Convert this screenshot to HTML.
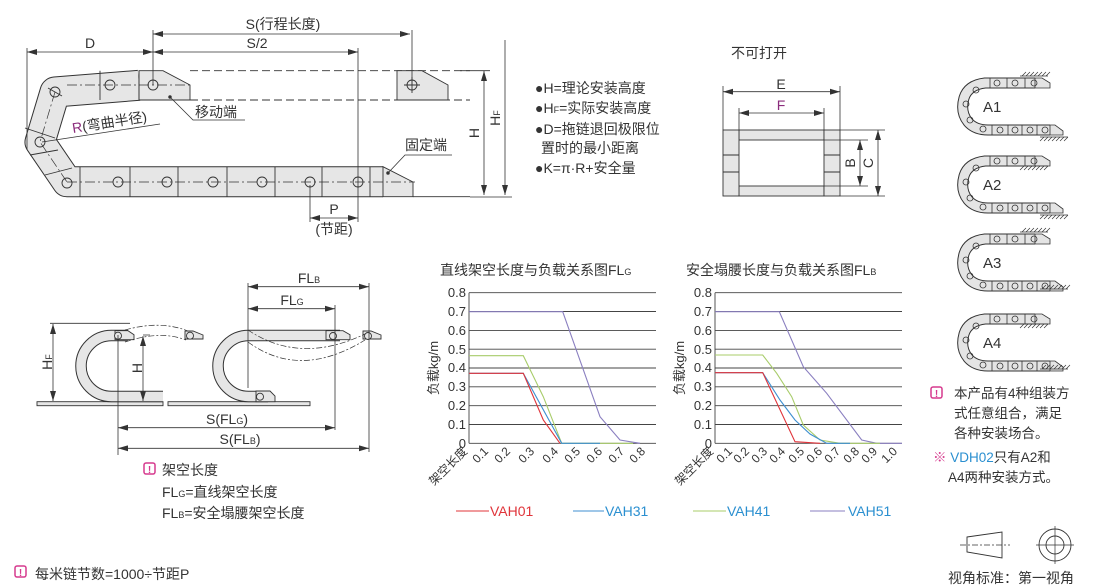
<!DOCTYPE html>
<html><head><meta charset="utf-8"><style>
html,body{margin:0;padding:0;background:#fff}
svg{display:block}
text{font-family:"Liberation Sans","Noto Sans CJK SC",sans-serif;fill:#333}
</style></head><body>
<svg width="1110" height="588" viewBox="0 0 1110 588" xmlns="http://www.w3.org/2000/svg">
<defs>
<marker id="a" viewBox="0 0 10 6" refX="10" refY="3" markerWidth="10" markerHeight="6" orient="auto-start-reverse" markerUnits="userSpaceOnUse"><path d="M0,0L10,3L0,6z" fill="#333"/></marker>
<g id="ach">
<path d="M1035,83 L985,83 Q968,85 964,98 Q960,112 968,122 Q975,130 988,130 L1050,130" fill="none" stroke="#333" stroke-width="11" stroke-linejoin="round"/>
<path d="M1035,83 L985,83 Q968,85 964,98 Q960,112 968,122 Q975,130 988,130 L1050,130" fill="none" stroke="#e4e4e4" stroke-width="9" stroke-linejoin="round"/>
<path d="M1035,78 L1042,78 L1050,83 L1050,88 L1035,88z M1050,125 L1055,125 L1063,131 L1063,135 L1050,135z" fill="#e4e4e4" stroke="#333" stroke-width="0.8"/>
<g fill="none" stroke="#333" stroke-width="0.8">
<circle cx="1034" cy="83" r="3"/><circle cx="1015" cy="83" r="3"/><circle cx="997" cy="83" r="3"/><circle cx="976" cy="90" r="3"/><circle cx="966" cy="104" r="3"/><circle cx="970" cy="120" r="3"/><circle cx="983" cy="129" r="3"/><circle cx="1000" cy="130" r="3"/><circle cx="1015" cy="130" r="3"/><circle cx="1030" cy="130" r="3"/><circle cx="1045" cy="130" r="3"/>
<path d="M1007,78V88 M1025,78V88 M990,78V88 M1008,125V135 M1022,125V135 M1037,125V135 M992,125V135"/>
</g>
</g>
<g id="hat" stroke="#333" stroke-width="0.7"><path d="M0,0H28 M2,0l4,-4 M6,0l4,-4 M10,0l4,-4 M14,0l4,-4 M18,0l4,-4 M22,0l4,-4 M26,0l4,-4"/></g>
<g id="hatd" stroke="#333" stroke-width="0.7"><path d="M0,0H28 M0,4l4,-4 M4,4l4,-4 M8,4l4,-4 M12,4l4,-4 M16,4l4,-4 M20,4l4,-4 M24,4l4,-4"/></g>
</defs>

<!-- ===== Top-left chain ===== -->
<g stroke="#333" stroke-width="0.9" fill="none">
<path d="M190,70.7H470 M190,100H470" stroke-dasharray="8,4"/>
<path d="M139,85.3 L55,92 L40,142 L67,181.7 L383,181.7" stroke-width="31" stroke-linejoin="round"/>
</g>
<path d="M139,85.3 L55,92 L40,142 L67,181.7 L383,181.7" fill="none" stroke="#e6e6e6" stroke-width="29" stroke-linejoin="round"/>
<g stroke="#333" stroke-width="0.9" fill="#e6e6e6">
<path d="M139,70.7H163L190,85V100H139z"/>
<path d="M383,166.7H383L413,182V196.7H383z"/>
<path d="M397,70.7H422L448,85V100H397z"/>
<path d="M413,196.7H470" fill="none"/>
<path d="M80,166.7V196.7 M130,166.7V196.7 M178,166.7V196.7 M227,166.7V196.7 M275,166.7V196.7 M322,166.7V196.7 M370,166.7V196.7 M100,70.7V100 M139,70.7V100 M48,88L62,96 M25,128L55,138 M30,155L58,150 M45,175L72,168" fill="none"/>
<path d="M67,85H190 M55,92L40,142L67,182 M67,182H415" fill="none" stroke-dasharray="10,3,2,3" stroke-width="0.7"/>
<g fill="none"><circle cx="110" cy="85" r="5"/><circle cx="153" cy="85" r="5"/><circle cx="55" cy="92" r="5"/><circle cx="40" cy="142" r="5"/><circle cx="67" cy="183" r="5"/><circle cx="118" cy="182" r="5"/><circle cx="167" cy="182" r="5"/><circle cx="213" cy="182" r="5"/><circle cx="262" cy="182" r="5"/><circle cx="310" cy="182" r="5"/><circle cx="358" cy="182" r="5"/><circle cx="412" cy="85" r="5"/><path d="M404,85H420M412,77V93"/></g>
<circle cx="170" cy="97" r="1.3" fill="#333"/><circle cx="388" cy="173" r="1.3" fill="#333"/>
</g>
<g stroke="#333" stroke-width="0.8" fill="none">
<path d="M153,30V85 M412,30V85 M358,48V200 M27,48V150 M310,185V222 M358,195V222"/>
<path d="M153,34H410" marker-start="url(#a)" marker-end="url(#a)"/>
<path d="M153,52H358" marker-start="url(#a)" marker-end="url(#a)"/>
<path d="M27,52H153" marker-start="url(#a)" marker-end="url(#a)"/>
<path d="M310,218H358" marker-start="url(#a)" marker-end="url(#a)"/>
<path d="M170,97L193,120H245 M42,142L160,124 M388,173L405,155H452"/>
<path d="M460,70.7H490 M470,197H512"/>
<path d="M484,71V195" marker-start="url(#a)" marker-end="url(#a)"/>
<path d="M505,40V195" marker-end="url(#a)"/>
</g>
<text x="283" y="29" font-size="14" text-anchor="middle">S(行程长度)</text>
<text x="257" y="48" font-size="14" text-anchor="middle">S/2</text>
<text x="90" y="48" font-size="14" text-anchor="middle">D</text>
<text x="195" y="117" font-size="14">移动端</text>
<text x="405" y="150" font-size="14">固定端</text>
<text x="334" y="214" font-size="14" text-anchor="middle">P</text>
<text x="334" y="234" font-size="14" text-anchor="middle">(节距)</text>
<text transform="translate(73,133) rotate(-9)" font-size="14"><tspan fill="#8b2c7c">R</tspan>(弯曲半径)</text>
<text transform="translate(479,133) rotate(-90)" font-size="14" text-anchor="middle">H</text>
<text transform="translate(500,118) rotate(-90)" font-size="14" text-anchor="middle">H<tspan font-size="9">F</tspan></text>

<!-- bullets -->
<g font-size="14">
<text x="535" y="93">●H=理论安装高度</text>
<text x="535" y="113">●H<tspan font-size="9">F</tspan>=实际安装高度</text>
<text x="535" y="134">●D=拖链退回极限位</text>
<text x="541" y="153">置时的最小距离</text>
<text x="535" y="173">●K=π·R+安全量</text>
</g>

<!-- cross section -->
<text x="731" y="58" font-size="14">不可打开</text>
<g stroke="#333" stroke-width="0.9" fill="#e6e6e6">
<rect x="739" y="130" width="85" height="10"/><rect x="739" y="186" width="85" height="10"/>
<rect x="723" y="130" width="16" height="66"/><rect x="824" y="130" width="16" height="66"/>
<path d="M723,155H739M723,172H739M824,155H840M824,172H840" fill="none"/>
</g>
<g stroke="#333" stroke-width="0.8" fill="none">
<path d="M723,86V130 M840,86V130 M739,108V130 M824,108V130 M840,130H885 M824,140H868 M824,186H868 M840,196H885"/>
<path d="M723,91.7H840" marker-start="url(#a)" marker-end="url(#a)"/>
<path d="M739,113H824" marker-start="url(#a)" marker-end="url(#a)"/>
<path d="M860,140V186" marker-start="url(#a)" marker-end="url(#a)"/>
<path d="M878,130V196" marker-start="url(#a)" marker-end="url(#a)"/>
</g>
<text x="781" y="89" font-size="14" text-anchor="middle">E</text>
<text x="781" y="110" font-size="14" text-anchor="middle" style="fill:#8b2c7c">F</text>
<text transform="translate(855,163) rotate(-90)" font-size="14" text-anchor="middle">B</text>
<text transform="translate(873,163) rotate(-90)" font-size="14" text-anchor="middle">C</text>

<!-- A1-A4 -->
<use href="#ach"/><use href="#hat" x="1020" y="76"/><use href="#hatd" x="1040" y="137"/>
<text x="983" y="112" font-size="15">A1</text>
<use href="#ach" y="78"/><use href="#hatd" x="1020" y="166"/><use href="#hatd" x="1040" y="215"/>
<text x="983" y="190" font-size="15">A2</text>
<use href="#ach" y="156"/><use href="#hat" x="1020" y="232"/><use href="#hat" x="1040" y="289"/>
<text x="983" y="268" font-size="15">A3</text>
<use href="#ach" y="236"/><use href="#hatd" x="1020" y="324"/><use href="#hat" x="1040" y="369"/>
<text x="983" y="348" font-size="15">A4</text>

<!-- notes right -->
<rect x="931" y="387" width="11" height="11" rx="2" fill="none" stroke="#d63a8e" stroke-width="1.5"/>
<text x="936.5" y="397" font-size="10" text-anchor="middle" font-weight="bold" style="fill:#d63a8e">!</text>
<g font-size="13.5">
<text x="954" y="398">本产品有4种组装方</text>
<text x="954" y="418">式任意组合，满足</text>
<text x="954" y="438">各种安装场合。</text>
<text x="933" y="462"><tspan style="fill:#d63a8e">※</tspan> <tspan style="fill:#2a8fd0">VDH02</tspan>只有A2和</text>
<text x="948" y="482">A4两种安装方式。</text>
</g>
<g stroke="#333" stroke-width="0.9" fill="none">
<path d="M967,537L1002,532V558L967,552z"/>
<path d="M960,545H1010" stroke-dasharray="6,2,2,2" stroke-width="0.7"/>
<circle cx="1055" cy="545" r="16"/><circle cx="1055" cy="545" r="9"/>
<path d="M1036,545H1074M1055,526V564" stroke-width="0.7"/>
</g>
<text x="948" y="583" font-size="14">视角标准：第一视角</text>

<!-- bottom-left note -->
<rect x="15" y="566" width="11" height="11" rx="2" fill="none" stroke="#d63a8e" stroke-width="1.5"/>
<text x="20.5" y="576" font-size="10" text-anchor="middle" font-weight="bold" style="fill:#d63a8e">!</text>
<text x="35" y="579" font-size="14">每米链节数=1000÷节距P</text>

<!-- ===== FL diagram ===== -->
<g stroke="#333" stroke-width="0.9" fill="#e6e6e6">
<rect x="37" y="401.7" width="126" height="4"/><rect x="168" y="401.7" width="142" height="4"/>
</g>
<g fill="none">
<path d="M128,335.5 L111.5,335.5 A30.5,30.5 0 0 0 111.5,396.5 L163,396.5" stroke="#333" stroke-width="11.5"/>
<path d="M128,335.5 L111.5,335.5 A30.5,30.5 0 0 0 111.5,396.5 L163,396.5" stroke="#e6e6e6" stroke-width="9.5"/>
<path d="M340,335.5 L248.5,335.5 A30.5,30.5 0 0 0 248.5,396.5 L268,396.5" stroke="#333" stroke-width="11.5"/>
<path d="M340,335.5 L248.5,335.5 A30.5,30.5 0 0 0 248.5,396.5 L268,396.5" stroke="#e6e6e6" stroke-width="9.5"/>
</g>
<g stroke="#333" stroke-width="0.9" fill="#e6e6e6">
<path d="M115,330.7h13l6,4v5h-19z"/>
<path d="M185,331h8l10,4v4h-18z"/>
<path d="M326,330.7h17l7,4v5h-24z"/>
<path d="M363,331h8l10,4v4h-18z"/>
<path d="M256,391h14l5,5v5.7h-19z"/>
<circle cx="118" cy="335.7" r="3.5"/><circle cx="190" cy="335.7" r="3.5"/><circle cx="333" cy="336" r="3.5"/><circle cx="368" cy="336" r="3.5"/><circle cx="260" cy="396.7" r="3.5"/>
</g>
<g stroke="#333" stroke-width="0.7" fill="none" stroke-dasharray="6,2,2,2">
<path d="M125,330 Q160,320 188,331"/><path d="M125,342 Q160,330 186,340"/>
<path d="M248,330 Q300,365 365,334"/><path d="M248,342 Q300,380 365,340"/>
</g>
<g stroke="#333" stroke-width="0.8" fill="none">
<path d="M50,323.3H130 M143,335H150"/>
<path d="M53,324V401" marker-start="url(#a)" marker-end="url(#a)"/>
<path d="M143,336V401" marker-start="url(#a)" marker-end="url(#a)"/>
<path d="M248,283V388 M335,305V430 M369,283V452 M118,335V455"/>
<path d="M248,286.7H369" marker-start="url(#a)" marker-end="url(#a)"/>
<path d="M248,308.7H335" marker-start="url(#a)" marker-end="url(#a)"/>
<path d="M118,427.7H335" marker-start="url(#a)" marker-end="url(#a)"/>
<path d="M118,448.3H369" marker-start="url(#a)" marker-end="url(#a)"/>
</g>
<text x="309" y="283" font-size="14" text-anchor="middle">FL<tspan font-size="9">B</tspan></text>
<text x="292" y="305" font-size="14" text-anchor="middle">FL<tspan font-size="9">G</tspan></text>
<text x="227" y="424" font-size="14" text-anchor="middle">S(FL<tspan font-size="9">G</tspan>)</text>
<text x="240" y="444" font-size="14" text-anchor="middle">S(FL<tspan font-size="9">B</tspan>)</text>
<text transform="translate(52,362) rotate(-90)" font-size="14" text-anchor="middle">H<tspan font-size="9">F</tspan></text>
<text transform="translate(142,368) rotate(-90)" font-size="14" text-anchor="middle">H</text>
<rect x="144" y="463" width="11" height="11" rx="2" fill="none" stroke="#d63a8e" stroke-width="1.5"/>
<text x="149.5" y="473" font-size="10" text-anchor="middle" font-weight="bold" style="fill:#d63a8e">!</text>
<g font-size="14">
<text x="162" y="475">架空长度</text>
<text x="162" y="497">FL<tspan font-size="9">G</tspan>=直线架空长度</text>
<text x="162" y="518">FL<tspan font-size="9">B</tspan>=安全塌腰架空长度</text>
</g>

<!-- ===== Charts ===== -->
<text x="440" y="275" font-size="14">直线架空长度与负载关系图FL<tspan font-size="9">G</tspan></text>
<text x="686" y="275" font-size="14">安全塌腰长度与负载关系图FL<tspan font-size="9">B</tspan></text>
<g stroke="#444" stroke-width="0.9">
<path d="M469,292.7H656M469,311.5H656M469,330.4H656M469,349.2H656M469,368H656M469,386.8H656M469,405.7H656M469,424.5H656M469,443.3H656M469,292.7V443.3"/>
<path d="M715,292.7H902M715,311.5H902M715,330.4H902M715,349.2H902M715,368H902M715,386.8H902M715,405.7H902M715,424.5H902M715,443.3H902M715,292.7V443.3"/>
</g>
<g font-size="13" text-anchor="end">
<text x="466" y="297">0.8</text><text x="466" y="316">0.7</text><text x="466" y="335">0.6</text><text x="466" y="354">0.5</text><text x="466" y="372">0.4</text><text x="466" y="391">0.3</text><text x="466" y="410">0.2</text><text x="466" y="429">0.1</text><text x="466" y="448">0</text>
<text x="712" y="297">0.8</text><text x="712" y="316">0.7</text><text x="712" y="335">0.6</text><text x="712" y="354">0.5</text><text x="712" y="372">0.4</text><text x="712" y="391">0.3</text><text x="712" y="410">0.2</text><text x="712" y="429">0.1</text><text x="712" y="448">0</text>
</g>
<text transform="translate(438,368) rotate(-90)" font-size="13" text-anchor="middle">负载kg/m</text>
<text transform="translate(684,368) rotate(-90)" font-size="13" text-anchor="middle">负载kg/m</text>
<g font-size="12" text-anchor="end">
<text transform="translate(468,452) rotate(-45)">架空长度</text>
<text transform="translate(489,452) rotate(-45)">0.1</text><text transform="translate(511,452) rotate(-45)">0.2</text><text transform="translate(535,452) rotate(-45)">0.3</text><text transform="translate(559,452) rotate(-45)">0.4</text><text transform="translate(581,452) rotate(-45)">0.5</text><text transform="translate(603,452) rotate(-45)">0.6</text><text transform="translate(625,452) rotate(-45)">0.7</text><text transform="translate(646,452) rotate(-45)">0.8</text>
<text transform="translate(714,452) rotate(-45)">架空长度</text>
<text transform="translate(733,452) rotate(-45)">0.1</text><text transform="translate(750,452) rotate(-45)">0.2</text><text transform="translate(768,452) rotate(-45)">0.3</text><text transform="translate(786,452) rotate(-45)">0.4</text><text transform="translate(805,452) rotate(-45)">0.5</text><text transform="translate(823,452) rotate(-45)">0.6</text><text transform="translate(841,452) rotate(-45)">0.7</text><text transform="translate(860,452) rotate(-45)">0.8</text><text transform="translate(878,452) rotate(-45)">0.9</text><text transform="translate(898,452) rotate(-45)">1.0</text>
</g>
<g fill="none" stroke-width="1.1">
<polyline stroke="#8a7fc0" points="469,311.7 562.7,311.7 600,416.7 620,440 640,443.3"/>
<polyline stroke="#a8cc6a" points="469,355.7 523.3,355.7 543.3,396.7 561.7,443.3 633,443.3"/>
<polyline stroke="#3f8fd0" points="469,373.3 523.3,373.3 561.7,443.3 600,443.3"/>
<polyline stroke="#e0343a" points="469,373.3 523.3,373.3 543.3,420 560,443.3"/>
<polyline stroke="#8a7fc0" points="715,311.7 779.3,311.7 803.3,366.7 826.7,393.3 861.7,440 876.7,443.3 902,443.3"/>
<polyline stroke="#a8cc6a" points="715,355 762.7,355 776.7,373.3 791.7,396.7 803.3,425 820,440 840,443.3 880,443.3"/>
<polyline stroke="#3f8fd0" points="715,372.7 762.7,372.7 780,400 795,420 810,434 826.7,443.3 850,443.3"/>
<polyline stroke="#e0343a" points="715,372.7 762.7,372.7 795,441.7 820,443.3"/>
</g>
<g stroke-width="1.1">
<path d="M456,511H489" stroke="#e0343a"/><path d="M573,511H604" stroke="#3f8fd0"/><path d="M693,511H726" stroke="#a8cc6a"/><path d="M810,511H845" stroke="#8a7fc0"/>
</g>
<g font-size="14">
<text x="490" y="516" style="fill:#e0343a">VAH01</text>
<text x="605" y="516" style="fill:#2a8fd0">VAH31</text>
<text x="727" y="516" style="fill:#2a8fd0">VAH41</text>
<text x="848" y="516" style="fill:#2a8fd0">VAH51</text>
</g>
</svg>
</body></html>
